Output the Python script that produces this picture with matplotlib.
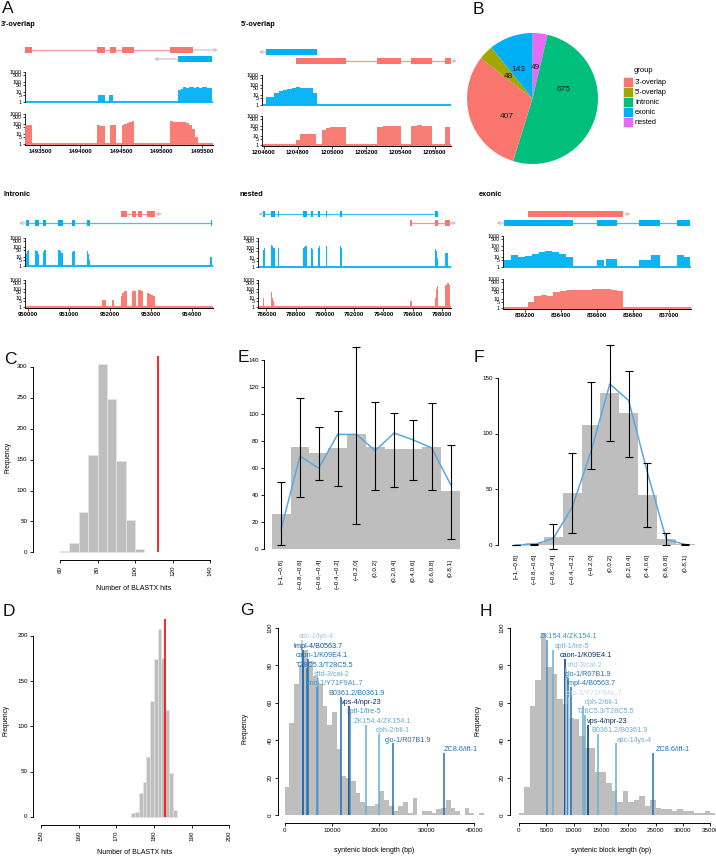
import numpy as np
import matplotlib
matplotlib.use("Agg")
import matplotlib.pyplot as plt
from matplotlib.patches import Rectangle
from matplotlib.ticker import NullLocator

plt.rcParams['font.family'] = ['Liberation Sans', 'DejaVu Sans']
plt.rcParams['axes.linewidth'] = 0.7

# ======================= DATA =======================
RED, BLUE = '#F8766D', '#00B0F6'

# ---- Panel A : 3'-overlap ----
ov3_red_exons = [(1493315, 1493401), (1494204, 1494303), (1494364, 1494438), (1494512, 1494661), (1495105, 1495389)]
ov3_red_arrow = 1495698
ov3_blue_exons = [(1495205, 1495625)]
ov3_blue_arrow = 1494908
ov3_blue_cov = [(1494216, 1494303, [6]), (1494352, 1494401, [6]),
                (1495205, 1495625, [15, 22, 30, 25, 32, 35, 28, 33, 26, 36, 30, 28, 24])]
ov3_red_cov = [(1493315, 1493401, [85, 90]), (1494204, 1494303, [90, 70, 60]), (1494364, 1494438, [90]),
               (1494512, 1494661, [80, 100, 130, 170, 200]),
               (1495105, 1495450, [200, 180, 180, 170, 150, 120, 80, 30, 5])]
ov3_ticks = [1493500, 1494000, 1494500, 1495000, 1495500]

# ---- Panel A : 5'-overlap ----
ov5_blue_exons = [(1204612, 1204913)]
ov5_blue_arrow = 1204571
ov5_red_exons = [(1204791, 1205081), (1205261, 1205400), (1205464, 1205586), (1205661, 1205696)]
ov5_red_arrow = 1205731
ov5_blue_cov = [(1204612, 1204913, [7, 7, 16, 25, 35, 45, 55, 60, 55, 55, 50, 16])]
ov5_red_cov = [(1204791, 1204907, [3.5, 13, 13, 13, 13]), (1204942, 1205081, [40, 60, 70, 80, 80, 80]),
               (1205261, 1205400, [80, 90, 90, 100]), (1205464, 1205586, [100, 110, 100, 100]),
               (1205661, 1205690, [80])]
ov5_ticks = [1204600, 1204800, 1205000, 1205200, 1205400, 1205600]

# ---- Panel A : intronic ----
int_red_exons = [(952274, 952420), (952543, 952640), (952688, 952787), (952907, 953104)]
int_red_arrow = 953275
int_blue_exons = [(949944, 950025), (950164, 950262), (950360, 950433), (950727, 950850),
                  (951070, 951144), (951438, 951511), (954476, 954500)]
int_blue_arrow = 949770
int_blue_cov = [(949944, 950025, [20, 40, 50]), (950164, 950262, [50, 40, 20]), (950360, 950433, [30, 60, 60]),
                (950727, 950850, [50, 40, 25]), (951070, 951144, [30, 40, 40]), (951438, 951511, [40, 20, 5]),
                (954460, 954500, [10])]
int_red_cov = [(951806, 951904, [7]), (952043, 952100, [7]), (952271, 952410, [20, 40, 60, 60]),
               (952548, 952639, [60, 70]), (952680, 952803, [80, 80, 60]), (952900, 953104, [40, 30, 25, 20])]
int_ticks = [950000, 951000, 952000, 953000, 954000]

# ---- Panel A : nested ----
nes_blue_exons = [(785770, 785931), (786292, 786566), (786777, 786892), (788470, 788743), (789040, 789200),
                  (789520, 789657), (790046, 790114), (791040, 791154), (797540, 797700)]
nes_blue_arrow = 785424
nes_red_exons = [(795830, 795943), (797540, 797700), (798240, 798537)]
nes_red_arrow = 798980
nes_blue_cov = [(785770, 785931, [60, 100]), (786292, 786566, [200, 150, 100]), (786777, 786892, [100]),
                (788470, 788743, [100, 120, 150]), (789040, 789200, [100, 80]), (789520, 789657, [100, 150]),
                (790046, 790114, [150]), (791040, 791154, [150, 100]), (797540, 797700, [80, 50, 10]),
                (798240, 798400, [30])]
nes_red_cov = [(785770, 785850, [10]), (786292, 786518, [50, 30, 10, 5]), (786777, 786820, [10]),
               (795830, 795943, [5]), (797493, 797700, [10, 100, 200]), (798227, 798570, [300, 500, 500, 300])]
nes_ticks = [786000, 788000, 790000, 792000, 794000, 796000, 798000]

# ---- Panel A : exonic ----
exo_red_exons = [(836218, 836748)]
exo_red_arrow = 836789
exo_blue_exons = [(836083, 836470), (836603, 836711), (836836, 836953), (837047, 837121)]
exo_blue_arrow = 836041
exo_blue_cov = [(836083, 836470, [5, 15, 10, 12, 20, 30, 40, 30, 20, 10]), (836600, 836640, [5]),
                (836650, 836711, [7]), (836836, 836900, [5, 5]), (836900, 836953, [15]),
                (837047, 837121, [15, 10])]
exo_red_cov = [(836218, 836748, [5, 20, 25, 20, 50, 60, 70, 70, 80, 70, 90, 100, 100, 80, 60])]
exo_ticks = [836200, 836400, 836600, 836800, 837000]

cov_ticks = [1, 5, 10, 50, 100, 500, 1000]

# ---- Panel B ----
group_names = ["3'-overlap", "5'-overlap", "Intronic", "exonic", "nested"]
group_counts = [407, 48, 675, 143, 49]
group_colors = ['#F8766D', '#A3A500', '#00BF7D', '#00B0F6', '#E76BF3']

# ---- Panel C / D ----
C_edges = [60, 65, 70, 75, 80, 85, 90, 95, 100, 105]
C_counts = [2, 16, 66, 157, 305, 248, 147, 53, 6]
C_obs = 112
D_edges = list(range(174, 187))
D_counts = [4, 5, 27, 39, 66, 128, 174, 208, 176, 118, 49, 8]
D_obs = 183

# ---- Panel E / F ----
bins_labels = ['[\u22121,\u22120.8]', '(\u22120.8,\u22120.6]', '(\u22120.6,\u22120.4]', '(\u22120.4,\u22120.2]',
               '(\u22120.2,0]', '(0,0.2]', '(0.2,0.4]', '(0.4,0.6]', '(0.6,0.8]', '(0.8,1]']
E_bar = [26, 76, 71, 75, 85, 76, 74, 74, 76, 43]
E_line = [15, 69, 60, 85, 85, 73, 86, 81, 75, 48]
E_lo = [3, 39, 51.5, 47, 18.5, 44, 46, 51.5, 44, 8]
E_hi = [50, 112, 90.5, 102, 150, 109, 101, 96, 108, 77.5]
F_bar = [0, 1.5, 7.5, 47, 108, 137, 118.5, 45.3, 5.4, 0.6]
F_line = [0, 0.5, 6, 34, 84, 145, 130, 65, 5, 0.5]
F_lo = [0, 0, -3.5, 11, 68, 94, 79, 16, 0, 0]
F_hi = [0, 1, 19, 82.5, 147, 180, 157, 74, 11, 1]

# ---- Panel G / H ----
G_counts = [15, 49, 70, 80, 88, 82, 74, 70, 58, 48, 55, 35, 21, 20, 18, 12, 7, 5, 5, 6, 13, 8, 5, 2,
            5, 7, 1, 9, 0, 2, 2, 1, 3, 4, 8, 4, 2, 0, 4, 1, 0, 1]
G_pairs = ['atic-1/lys-4', 'tmpl-4/B0563.7', 'caon-1/K09E4.1', 'T28C5.3/T28C5.5', 'sftd-3/cal-2',
           'cno-1/Y71F9AL.7', 'B0361.2/B0361.9', 'vps-4/npr-23', 'sptl-1/tre-5', 'ZK154.4/ZK154.1',
           'dph-2/bli-1', 'glo-1/R07B1.9', 'ZC8.6/ift-1']
G_len = [3600, 3870, 4920, 4700, 7030, 6900, 11800, 13500, 13750, 17150, 19960, 22900, 33730]
G_label_y = [95, 90, 85, 80, 75, 70, 65, 60, 55, 50, 45, 40, 35]
G_label_x = [2950, 1900, 2390, 2390, 6110, 4570, 9280, 11950, 13140, 14690, 19250, 21220, 33590]
G_colors = ['#9ECAE1', '#08519C', '#2171B5', '#2171B5', '#6BAED6', '#4292C6', '#2171B5', '#08306B',
            '#4292C6', '#6BAED6', '#6BAED6', '#2171B5', '#2171B5']

H_counts = [1, 15, 58, 72, 97, 79, 75, 62, 59, 52, 51, 42, 36, 36, 23, 23, 17, 13, 7, 13, 7, 8, 10, 5,
            8, 4, 3, 3, 2, 3, 2, 2, 1, 1, 2, 1]
H_pairs = ['ZK154.4/ZK154.1', 'sptl-1/tre-5', 'caon-1/K09E4.1', 'sftd-3/cal-2', 'glo-1/R07B1.9',
           'tmpl-4/B0563.7', 'cno-1/Y71F9AL.7', 'dph-2/bli-1', 'T28C5.3/T28C5.5', 'vps-4/npr-23',
           'B0361.2/B0361.9', 'atic-1/lys-4', 'ZC8.6/ift-1']
H_len = [5180, 6220, 8415, 8600, 8900, 9500, 9200, 11770, 12070, 12680, 14390, 17740, 24450]
H_label_y = [95, 90, 85, 80, 75, 70, 65, 60, 55, 50, 45, 40, 35]
H_label_x = [3840, 6585, 7500, 8720, 8415, 8720, 8600, 12070, 10670, 12380, 13290, 17870, 25000]
H_colors = ['#4292C6', '#6BAED6', '#08306B', '#9ECAE1', '#2171B5', '#2171B5', '#C6DBEF', '#6BAED6',
            '#6BAED6', '#08306B', '#6BAED6', '#6BAED6', '#2171B5']

# ======================= FIGURE =======================
W, H = 716, 858
fig = plt.figure(figsize=(W / 100, H / 100), dpi=100)


def ax_px(x0, y0, x1, y1):
    return fig.add_axes([x0 / W, 1 - y1 / H, (x1 - x0) / W, (y1 - y0) / H])


def draw_gene(ax, exons, y, strand, arrow_end, color):
    s = min(e[0] for e in exons)
    e_ = max(e[1] for e in exons)
    ax.plot([s, e_], [y, y], color=color, lw=0.9, alpha=0.75, solid_capstyle='butt')
    ax.broken_barh([(a, b - a) for a, b in exons], (y - 2.7, 5.4), facecolors=color, edgecolor='none')
    start = e_ if strand == '+' else s
    ax.annotate('', xy=(arrow_end, y), xytext=(start, y),
                arrowprops=dict(arrowstyle='->', color='#C8C8C8', lw=0.9, shrinkA=0, shrinkB=0,
                                mutation_scale=5), annotation_clip=False)


def draw_cov(ax, blocks, color, xlim, xticks=None):
    ax.set_yscale('log')
    ax.set_xlim(xlim)
    ax.set_ylim(0.88, 1250)
    ax.plot(xlim, [1, 1], color=color, lw=1.5, solid_capstyle='butt', zorder=2, alpha=0.9)
    for s, e, vals in blocks:
        edges = np.linspace(s, e, len(vals) + 1)
        ax.stairs(vals, edges, baseline=1, fill=True, color=color, lw=0, alpha=0.95, zorder=3)
    for sp in ['top', 'right']:
        ax.spines[sp].set_visible(False)
    ax.spines['left'].set_bounds(1, 1000)
    ax.spines['left'].set_linewidth(0.6)
    ax.set_yticks(cov_ticks)
    ax.set_yticklabels([str(t) for t in cov_ticks])
    ax.yaxis.set_minor_locator(NullLocator())
    ax.tick_params(axis='y', labelsize=3.8, length=1.8, width=0.5, pad=0.5)
    if xticks is None:
        ax.spines['bottom'].set_visible(False)
        ax.set_xticks([])
    else:
        ax.spines['bottom'].set_linewidth(0.7)
        ax.set_xticks(xticks)
        ax.set_xticklabels([str(t) for t in xticks], fontweight='bold')
        ax.tick_params(axis='x', labelsize=4.3, length=2, width=0.5, pad=1)
    ax.patch.set_alpha(0)


panelsA = [
    # xlim px, gene y-range, row ys, blue cov px, red cov px
    dict(x=(25, 213), xlim=(1493315, 1495636), gy=(44, 66),
         genes=[(ov3_red_exons, 50, '+', ov3_red_arrow, RED), (ov3_blue_exons, 59, '-', ov3_blue_arrow, BLUE)],
         bc=(71, 103), rc=(113, 145), bcov=ov3_blue_cov, rcov=ov3_red_cov, ticks=ov3_ticks),
    dict(x=(262, 451), xlim=(1204590, 1205695), gy=(44, 66),
         genes=[(ov5_blue_exons, 52, '-', ov5_blue_arrow, BLUE), (ov5_red_exons, 61, '+', ov5_red_arrow, RED)],
         bc=(74, 106), rc=(115, 146), bcov=ov5_blue_cov, rcov=ov5_red_cov, ticks=ov5_ticks),
    dict(x=(25, 213), xlim=(949920, 954525), gy=(206, 230),
         genes=[(int_red_exons, 214, '+', int_red_arrow, RED), (int_blue_exons, 223, '-', int_blue_arrow, BLUE)],
         bc=(237, 267), rc=(279, 308), bcov=int_blue_cov, rcov=int_red_cov, ticks=int_ticks),
    dict(x=(258, 451), xlim=(785424, 798617), gy=(206, 230),
         genes=[(nes_blue_exons, 214, '-', nes_blue_arrow, BLUE), (nes_red_exons, 223, '+', nes_red_arrow, RED)],
         bc=(237, 268), rc=(279, 308), bcov=nes_blue_cov, rcov=nes_red_cov, ticks=nes_ticks),
    dict(x=(503, 691), xlim=(836079, 837124), gy=(206, 230),
         genes=[(exo_red_exons, 214, '+', exo_red_arrow, RED), (exo_blue_exons, 223, '-', exo_blue_arrow, BLUE)],
         bc=(235, 268), rc=(278, 309), bcov=exo_blue_cov, rcov=exo_red_cov, ticks=exo_ticks),
]

for p in panelsA:
    x0, x1 = p['x']
    ga = ax_px(x0, p['gy'][0], x1, p['gy'][1])
    ga.set_xlim(p['xlim'])
    ga.set_ylim(p['gy'][1], p['gy'][0])
    ga.axis('off')
    for exons, y, strand, aend, col in p['genes']:
        draw_gene(ga, exons, y, strand, aend, col)
    ba = ax_px(x0, p['bc'][0], x1, p['bc'][1])
    draw_cov(ba, p['bcov'], BLUE, p['xlim'])
    ra = ax_px(x0, p['rc'][0], x1, p['rc'][1])
    draw_cov(ra, p['rcov'], RED, p['xlim'], p['ticks'])

# ---- Panel B : pie ----
axB = ax_px(467, 33, 598, 164)
pie_order = [4, 2, 0, 1, 3]
axB.pie([group_counts[i] for i in pie_order], colors=[group_colors[i] for i in pie_order],
        startangle=90, counterclock=False, radius=1, wedgeprops=dict(lw=0))
axB.set_xlim(-1, 1)
axB.set_ylim(-1, 1)
pie_label_pos = [(-0.39, -0.28), (-0.37, 0.33), (0.47, 0.13), (-0.22, 0.45), (0.04, 0.48)]
for i, (lx, ly) in enumerate(pie_label_pos):
    axB.text(lx, ly, str(group_counts[i]), ha='center', va='center', fontsize=6, color='#1a1a1a')


def base_style(ax, xb, yb, xt, yt, xrot=90, yrot=0, size=4.5):
    for sp in ['top', 'right']:
        ax.spines[sp].set_visible(False)
    if xb is None:
        ax.spines['bottom'].set_visible(False)
    else:
        ax.spines['bottom'].set_bounds(*xb)
    ax.spines['left'].set_bounds(*yb)
    if xt is not None:
        ax.set_xticks(xt)
        ax.set_xticklabels([str(t) for t in xt], rotation=xrot)
    ax.set_yticks(yt)
    ax.set_yticklabels([str(t) for t in yt], rotation=yrot, va='center')
    ax.tick_params(labelsize=size, length=2.5, width=0.6, pad=1.5)
    ax.patch.set_alpha(0)


GREY = '#BEBEBE'

# ---- Panel C ----
axC = ax_px(33, 356, 217, 560)
axC.bar(C_edges[:-1], C_counts, width=np.diff(C_edges), align='edge', color=GREY,
        edgecolor='#E6E6E6', lw=0.5)
axC.set_xlim(45.6, 143.7)
axC.set_ylim(-12.2, 317.2)
axC.vlines(C_obs, 0, 317.2, color='#FF0000', lw=1.2)
base_style(axC, (60, 140), (0, 300), [60, 80, 100, 120, 140], [0, 50, 100, 150, 200, 250, 300])

# ---- Panel D ----
axD = ax_px(33.3, 619.3, 236.8, 824.6)
axD.bar(D_edges[:-1], D_counts, width=1, align='edge', color=GREY, edgecolor='#E6E6E6', lw=0.4)
axD.set_xlim(147.96, 202.0)
axD.set_ylim(-8.4, 218.4)
axD.vlines(D_obs, 0, 218.4, color='#FF0000', lw=1.2)
base_style(axD, (150, 200), (0, 200), [150, 160, 170, 180, 190, 200], [0, 50, 100, 150, 200])


# ---- Panel E / F ----
def bar_err(ax, bars, line, lo, hi, xlim, ylim, yt):
    x = np.arange(len(bars)) + 0.5
    ax.bar(x, bars, width=1.0, color=GREY, lw=0)
    ax.plot(x, line, color='#5AA8DE', lw=1.1, zorder=4)
    lo = np.array(lo)
    hi = np.array(hi)
    cont = ax.errorbar(x, lo, yerr=[np.zeros_like(lo), hi - lo], fmt='none', ecolor='black',
                       elinewidth=0.8, capsize=2.9, capthick=0.8, zorder=5)
    for art in cont.get_children():
        art.set_clip_on(False)
    ax.set_xlim(xlim)
    ax.set_ylim(ylim)
    base_style(ax, None, (yt[0], yt[-1]), None, yt)
    ax.set_xticks(x)
    ax.set_xticklabels(bins_labels, rotation=90, va='top')
    ax.tick_params(axis='x', length=0, pad=1.5)


axE = ax_px(264.2, 352.5, 467.5, 556.9)
bar_err(axE, E_bar, E_line, E_lo, E_hi, (-0.4, 10.4), (-5.6, 145.6), [0, 20, 40, 60, 80, 100, 120, 140])
axF = ax_px(498.3, 371.7, 702.5, 551.7)
bar_err(axF, F_bar, F_line, F_lo, F_hi, (-0.42, 10.42), (-6, 156), [0, 50, 100, 150])


# ---- Panel G / H ----
def syn_hist(ax, counts, pairs, lens, ly, lx, cols, xlim, xt):
    edges = np.arange(len(counts) + 1) * 1000
    ax.bar(edges[:-1], counts, width=1000, align='edge', color=GREY, lw=0)
    for name, L, y, tx, c in zip(pairs, lens, ly, lx, cols):
        ax.vlines(L, 0, y - 1.8, color=c, lw=1.1, zorder=3)
        ax.text(tx, y, name, color=c, fontsize=5.2, ha='left', va='center', zorder=4, clip_on=False)
    ax.set_xlim(xlim)
    ax.set_ylim(-4.1, 106.2)
    base_style(ax, (xt[0], xt[-1]), (0, 100), xt, [0, 20, 40, 60, 80, 100], xrot=0, yrot=90)


axG = ax_px(278.3, 616, 484.9, 822.7)
syn_hist(axG, G_counts, G_pairs, G_len, G_label_y, G_label_x, G_colors, (-1330, 42256),
         [0, 10000, 20000, 30000, 40000])
axH = ax_px(510, 616, 715, 822.7)
syn_hist(axH, H_counts, H_pairs, H_len, H_label_y, H_label_x, H_colors, (-1647, 35870),
         [0, 5000, 10000, 15000, 20000, 25000, 30000, 35000])

# ======================= TEXT OVERLAY =======================
ov = fig.add_axes([0, 0, 1, 1], zorder=10)
ov.set_xlim(0, W)
ov.set_ylim(H, 0)
ov.axis('off')
ov.patch.set_alpha(0)

for letter, (lx, ly) in zip('ABCDEFGH', [(2, 1), (473, 2), (4, 352), (3, 604), (238, 350), (474, 350),
                                          (240, 603), (480, 604)]):
    ov.text(lx, ly, letter, fontsize=12.5, ha='left', va='top', color='#111111')

for title, (tx, ty) in zip(["3'-overlap", "5'-overlap", "Intronic", "nested", "exonic"],
                           [(1, 25), (241, 25), (3, 194), (240, 194), (479, 194)]):
    ov.text(tx, ty, title, fontsize=5.3, fontweight='bold', ha='left', va='center')

# legend of B
ov.text(634, 71, 'group', fontsize=5.5, ha='left', va='center')
for i, (name, col) in enumerate(zip(group_names, group_colors)):
    y0 = 77 + i * 10.1
    ov.add_patch(Rectangle((622.5, y0), 10, 10.1, facecolor=col, edgecolor='white', lw=0.4))
    ov.text(635, y0 + 5.2, name, fontsize=5.3, ha='left', va='center')

ov.text(8, 457, 'Frequency', rotation=90, fontsize=4.8, ha='center', va='center')
ov.text(6, 720, 'Frequency', rotation=90, fontsize=4.8, ha='center', va='center')
ov.text(245, 728, 'Frequency', rotation=90, fontsize=4.8, ha='center', va='center')
ov.text(478, 720, 'Frequency', rotation=90, fontsize=4.8, ha='center', va='center')
ov.text(134, 589, 'Number of BLASTX hits', fontsize=5, ha='center', va='center')
ov.text(135, 852, 'Number of BLASTX hits', fontsize=5, ha='center', va='center')
ov.text(374, 851, 'syntenic block length (bp)', fontsize=5, ha='center', va='center')
ov.text(611, 851, 'syntenic block length (bp)', fontsize=5, ha='center', va='center')

fig.savefig('out.png', dpi=100)
